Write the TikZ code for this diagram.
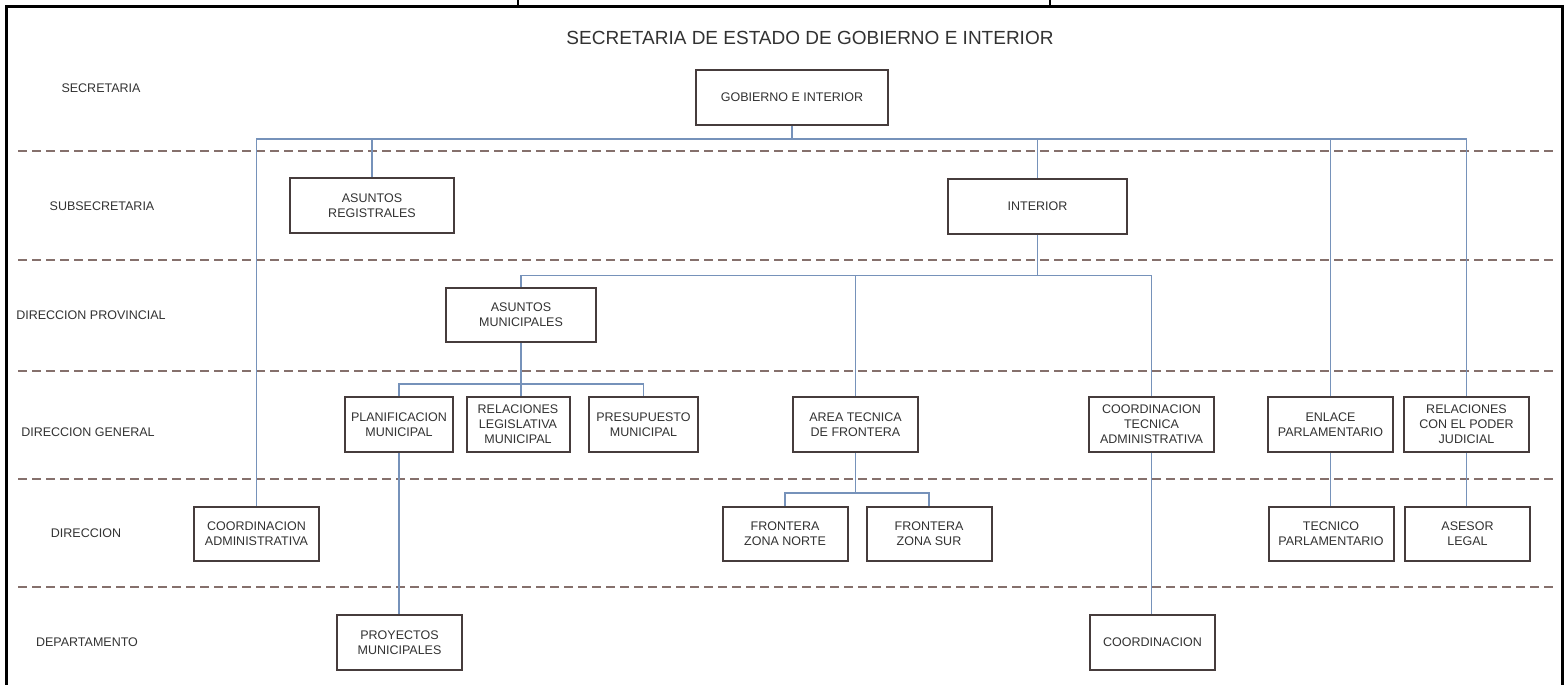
\documentclass[tikz,border=0pt]{standalone}
\usepackage{fontspec}
\setmainfont{Liberation Sans}
\usepackage{tikz}

\definecolor{linkblue}{RGB}{118,146,186}
\definecolor{sepbrown}{RGB}{133,112,108}
\definecolor{boxline}{RGB}{70,60,60}
\definecolor{txtgray}{RGB}{50,50,50}

\begin{document}
\begin{tikzpicture}[x=1pt, y=-1pt,
    box/.style={draw=boxline, line width=2pt, fill=white, text=txtgray, align=center,
        minimum width=125pt, minimum height=55pt, inner sep=0pt,
        font=\fontsize{12.5}{15}\selectfont},
    lvl/.style={text=txtgray, font=\fontsize{12.5}{15}\selectfont},
    link/.style={draw=linkblue, line width=1.4pt},
    sep/.style={draw=sepbrown, line width=2pt, dash pattern=on 9pt off 5pt}]
    \useasboundingbox (0,0) rectangle (1567,685);
    \clip (0,0) rectangle (1567,685);

    % marco
    \draw[line width=3pt] (6,760) -- (6,7) -- (1562,7) -- (1562,760);
    \draw[line width=2pt] (518,0) -- (518,7) (1050,0) -- (1050,7);

    % separadores de niveles
    \foreach \y in {151,260,371,479,587}
        \draw[sep] (18,\y) -- (1556,\y);

    \node[text=txtgray, font=\fontsize{19}{22}\selectfont] (titulo) at (810,38)
        {SECRETARIA DE ESTADO DE GOBIERNO E INTERIOR};

    % niveles
    \node[lvl] (lsec) at (101,88) {SECRETARIA};
    \node[lvl] (lsub) at (102,206) {SUBSECRETARIA};
    \node[lvl] (ldprov) at (91,315) {DIRECCION PROVINCIAL};
    \node[lvl] (ldgen) at (88,432) {DIRECCION GENERAL};
    \node[lvl] (ldir) at (86,533) {DIRECCION};
    \node[lvl] (ldep) at (87,642) {DEPARTAMENTO};

    % cajas
    \node[box, minimum width=192pt] (gob) at (792,97.5) {GOBIERNO E INTERIOR};
    \node[box, minimum width=164pt] (areg) at (372,205.5) {ASUNTOS\\REGISTRALES};
    \node[box, minimum width=179pt] (inter) at (1037.5,206) {INTERIOR};
    \node[box, minimum width=150pt, minimum height=54pt] (amun) at (521,315) {ASUNTOS\\MUNICIPALES};
    \node[box, minimum width=108pt] (plan) at (399,424.5) {PLANIFICACION\\MUNICIPAL};
    \node[box, minimum width=103pt] (rleg) at (518,424.5) {RELACIONES\\LEGISLATIVA\\MUNICIPAL};
    \node[box, minimum width=109pt] (pres) at (643.5,424.5) {PRESUPUESTO\\MUNICIPAL};
    \node[box] (atec) at (855.5,424.5) {AREA TECNICA\\DE FRONTERA};
    \node[box] (ctec) at (1151.5,424.5) {COORDINACION\\TECNICA\\ADMINISTRATIVA};
    \node[box] (enl) at (1330.5,424.5) {ENLACE\\PARLAMENTARIO};
    \node[box] (rjud) at (1466.5,424.5) {RELACIONES\\CON EL PODER\\JUDICIAL};
    \node[box, minimum height=54pt] (cadm) at (256.5,534) {COORDINACION\\ADMINISTRATIVA};
    \node[box, minimum height=54pt] (fnor) at (785,534) {FRONTERA\\ZONA NORTE};
    \node[box, minimum height=54pt] (fsur) at (929,534) {FRONTERA\\ZONA SUR};
    \node[box, minimum height=54pt] (tpar) at (1331,534) {TECNICO\\PARLAMENTARIO};
    \node[box, minimum height=54pt] (ases) at (1467.5,534) {ASESOR\\LEGAL};
    \node[box] (proy) at (399.5,642.5) {PROYECTOS\\MUNICIPALES};
    \node[box] (coor) at (1152.5,642.5) {COORDINACION};

    % conexiones
    \draw[link] (gob.south) -- ++(0,13) coordinate (bus1);
    \draw[link] (cadm.north) |- (bus1) -| (rjud.north);
    \foreach \n in {areg,inter,enl}
        \draw[link] (\n.north) -- (\n.north |- bus1);

    \draw[link] (inter.south) -- ++(0,41) coordinate (bus2);
    \draw[link] (amun.north) |- (bus2) -| (ctec.north);
    \draw[link] (atec.north) -- (atec.north |- bus2);

    \draw[link] (amun.south) -- (amun.south |- rleg.north);
    \path (amun.south) ++(0,41) coordinate (bus3);
    \draw[link] (plan.north) |- (bus3) -| (pres.north);

    \draw[link] (atec.south) -- ++(0,40) coordinate (bus4);
    \draw[link] (fnor.north) |- (bus4) -| (fsur.north);

    \foreach \a/\b in {plan/proy,ctec/coor,enl/tpar,rjud/ases}
        \draw[link] (\a.south) -- (\a.south |- \b.north);
\end{tikzpicture}
\end{document}
